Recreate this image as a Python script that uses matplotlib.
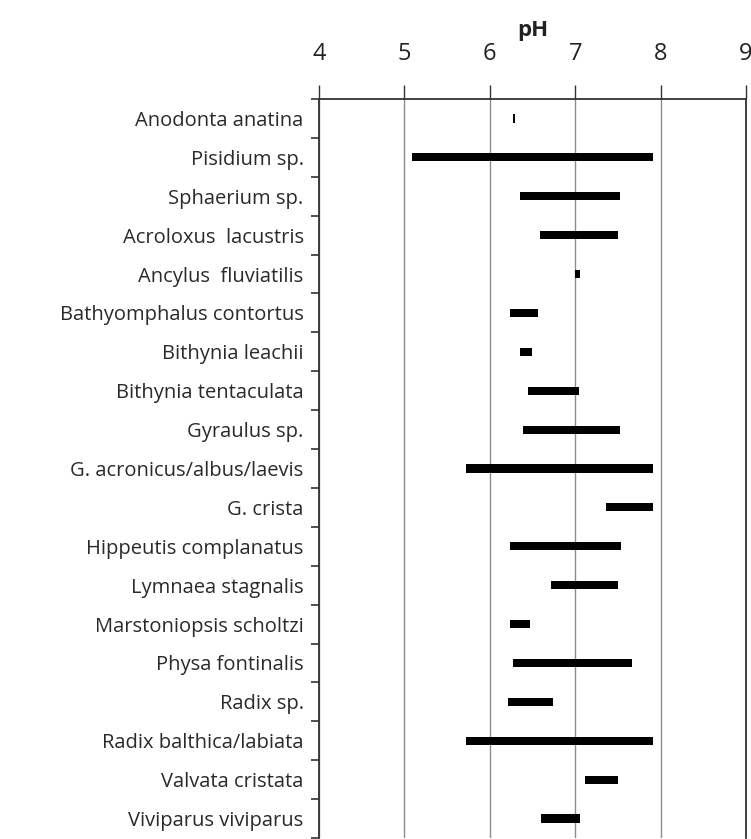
import numpy as np
import matplotlib
matplotlib.use('Agg')
import matplotlib.pyplot as plt

#species (top to bottom) and their pH range
species = ['Anodonta anatina', 'Pisidium sp.', 'Sphaerium sp.', 'Acroloxus  lacustris',
           'Ancylus  fluviatilis', 'Bathyomphalus contortus', 'Bithynia leachii',
           'Bithynia tentaculata', 'Gyraulus sp.', 'G. acronicus/albus/laevis', 'G. crista',
           'Hippeutis complanatus', 'Lymnaea stagnalis', 'Marstoniopsis scholtzi',
           'Physa fontinalis', 'Radix sp.', 'Radix balthica/labiata', 'Valvata cristata',
           'Viviparus viviparus']
ph_min = [6.27, 5.09, 6.35, 6.59, 7.00, 6.24, 6.35, 6.45, 6.39, 5.72, 7.36,
          6.24, 6.72, 6.24, 6.27, 6.21, 5.72, 7.12, 6.60]
ph_max = [6.29, 7.91, 7.52, 7.50, 7.06, 6.57, 6.49, 7.05, 7.52, 7.91, 7.91,
          7.54, 7.50, 6.47, 7.67, 6.74, 7.91, 7.50, 7.06]
ph_ticks = [4, 5, 6, 7, 8, 9]

plt.rcParams['font.family'] = ['Open Sans', 'DejaVu Sans']

fig = plt.figure(figsize=(7.51, 8.39), dpi=100)
ax = fig.add_axes([319/751, 1/839, 427/751, 739/839])

y = np.arange(len(species))
widths = np.array(ph_max) - np.array(ph_min)
ax.barh(y, widths, left=ph_min, height=0.21, color='black', zorder=3)

ax.set_xlim(4, 9)
ax.set_ylim(len(species) - 0.5, -0.5)

#ph axis on top
ax.xaxis.tick_top()
ax.xaxis.set_label_position('top')
ax.set_xticks(ph_ticks)
ax.set_xticklabels([str(t) for t in ph_ticks], fontsize=17, color='#222222')
ax.tick_params(axis='x', direction='out', length=10, width=1, pad=14, color='#333333')
ax.set_xlabel('pH', fontsize=16, fontweight='bold', labelpad=4, color='#222222')
ax.grid(axis='x', color='#8c8c8c', linewidth=1, zorder=0)

#category labels with ticks in between
ax.set_yticks(y)
ax.set_yticklabels(species, fontsize=14.5, color='#2a2a2a')
ax.set_yticks(np.arange(len(species) + 1) - 0.5, minor=True)
ax.tick_params(axis='y', which='major', length=0, pad=11)
ax.tick_params(axis='y', which='minor', length=6, width=1.2, direction='out', color='#333333')

for s in ax.spines.values():
    s.set_color('#333333')
    s.set_linewidth(1.3)
ax.spines['bottom'].set_visible(False)

fig.savefig('out.png', dpi=100)
